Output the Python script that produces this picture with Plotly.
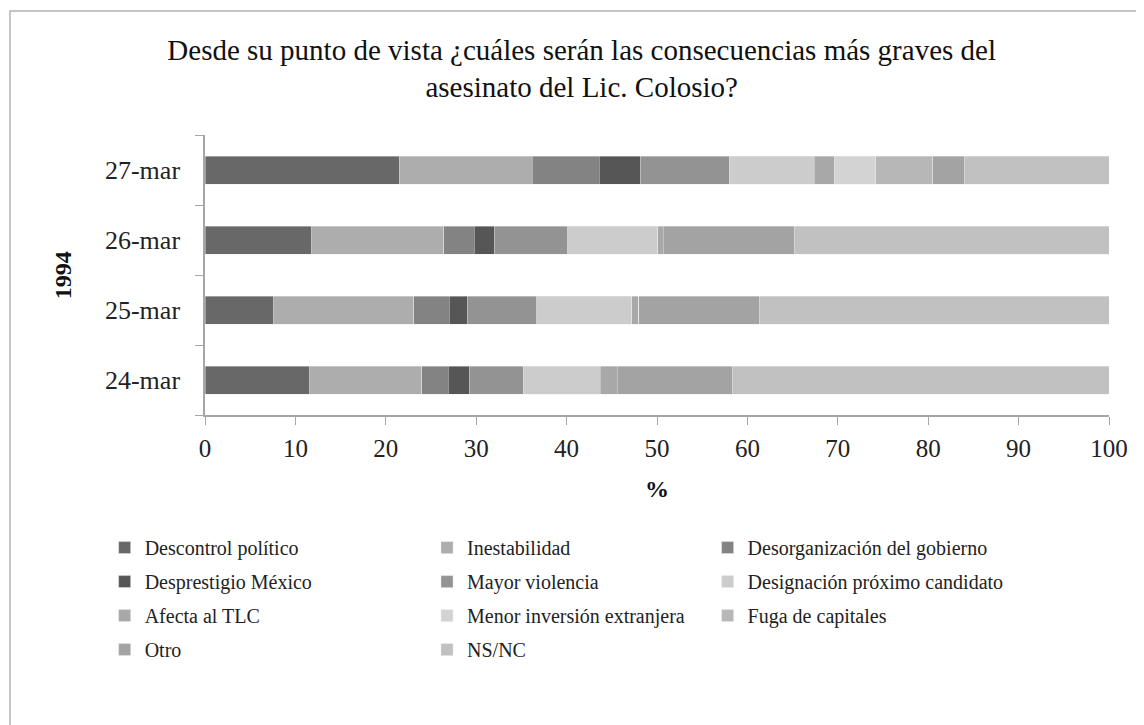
import plotly.graph_objects as go

# Fechas (de abajo hacia arriba)
fechas = ['24-mar', '25-mar', '26-mar', '27-mar']

# Porcentajes por categoría, en el orden de fechas
descontrol = [11.6, 7.6, 11.8, 21.5]
inestabilidad = [12.4, 15.5, 14.6, 14.7]
desorganizacion = [2.9, 3.9, 3.4, 7.4]
desprestigio = [2.4, 2.0, 2.2, 4.6]
violencia = [5.9, 7.7, 8.1, 9.8]
designacion = [8.5, 10.5, 10.0, 9.4]
tlc = [1.9, 0.8, 0.6, 2.2]
inversion = [0, 0, 0, 4.6]
fuga = [0, 0, 0, 6.3]
otro = [12.8, 13.3, 14.5, 3.5]
nsnc = [41.6, 38.7, 34.8, 16.0]

series = [
    ('Descontrol político', descontrol, '#686868', 'legend'),
    ('Inestabilidad', inestabilidad, '#adadad', 'legend2'),
    ('Desorganización del gobierno', desorganizacion, '#838383', 'legend3'),
    ('Desprestigio México', desprestigio, '#565656', 'legend'),
    ('Mayor violencia', violencia, '#939393', 'legend2'),
    ('Designación próximo candidato', designacion, '#cccccc', 'legend3'),
    ('Afecta al TLC', tlc, '#a8a8a8', 'legend'),
    ('Menor inversión extranjera', inversion, '#d3d3d3', 'legend2'),
    ('Fuga de capitales', fuga, '#b7b7b7', 'legend3'),
    ('Otro', otro, '#a3a3a3', 'legend'),
    ('NS/NC', nsnc, '#c1c1c1', 'legend2'),
]

serif = 'Liberation Serif'

fig = go.Figure()
for i, (name, vals, color, leg) in enumerate(series):
    fig.add_trace(go.Bar(
        y=fechas, x=vals, name=name, orientation='h',
        marker=dict(color=color, line=dict(color='rgba(235,235,235,0.7)', width=0.6)),
        width=0.4, legend=leg, legendgroup=str(i),
    ))

leg_common = dict(
    orientation='v', yanchor='top', xanchor='left', y=-0.404,
    font=dict(family=serif, size=20, color='#222'),
    bgcolor='rgba(0,0,0,0)', tracegroupgap=5, itemwidth=30,
)

# la página añade 8 px de margen, así que la figura es 8 px más pequeña
fig.update_layout(
    width=1136, height=717,
    margin=dict(l=197, r=35, t=127, b=310),
    paper_bgcolor='white', plot_bgcolor='white',
    barmode='stack',
    title=dict(
        text='Desde su punto de vista ¿cuáles serán las consecuencias más graves del<br>asesinato del Lic. Colosio?',
        x=0.505, xanchor='center', xref='container',
        y=0.928, yanchor='top',
        font=dict(family=serif, size=29, color='#111'),
    ),
    xaxis=dict(
        range=[0, 100], dtick=10, showgrid=False, zeroline=False,
        showline=True, linecolor='#a6a6a6', linewidth=1.5,
        ticks='outside', ticklen=8, tickcolor='#a6a6a6',
        ticklabelstandoff=2,
        tickfont=dict(family=serif, size=25, color='#222'),
    ),
    yaxis=dict(
        showgrid=False, zeroline=False,
        showline=True, linecolor='#a6a6a6', linewidth=1.5,
        ticks='outside', ticklen=8, tickcolor='#a6a6a6', tickson='boundaries',
        ticklabelstandoff=18,
        tickfont=dict(family=serif, size=26, color='#222'),
    ),
    legend=dict(x=-0.111, **leg_common),
    legend2=dict(x=0.2456, **leg_common),
    legend3=dict(x=0.556, **leg_common),
    annotations=[
        dict(text='<b>1994</b>', xref='paper', yref='paper', x=-0.1735, y=0.5,
             textangle=-90, showarrow=False,
             font=dict(family=serif, size=24, color='#111')),
        dict(text='<b>%</b>', xref='paper', yref='paper', x=0.5, y=-0.318,
             showarrow=False, font=dict(family=serif, size=24, color='#111')),
    ],
    shapes=[
        dict(type='rect', xref='paper', yref='paper',
             x0=-0.2157, x1=1.06, y0=-1.15, y1=1.443,
             line=dict(color='#b3b3b3', width=1.5), fillcolor='rgba(0,0,0,0)',
             layer='below'),
    ],
)

fig.write_html('out.html')
